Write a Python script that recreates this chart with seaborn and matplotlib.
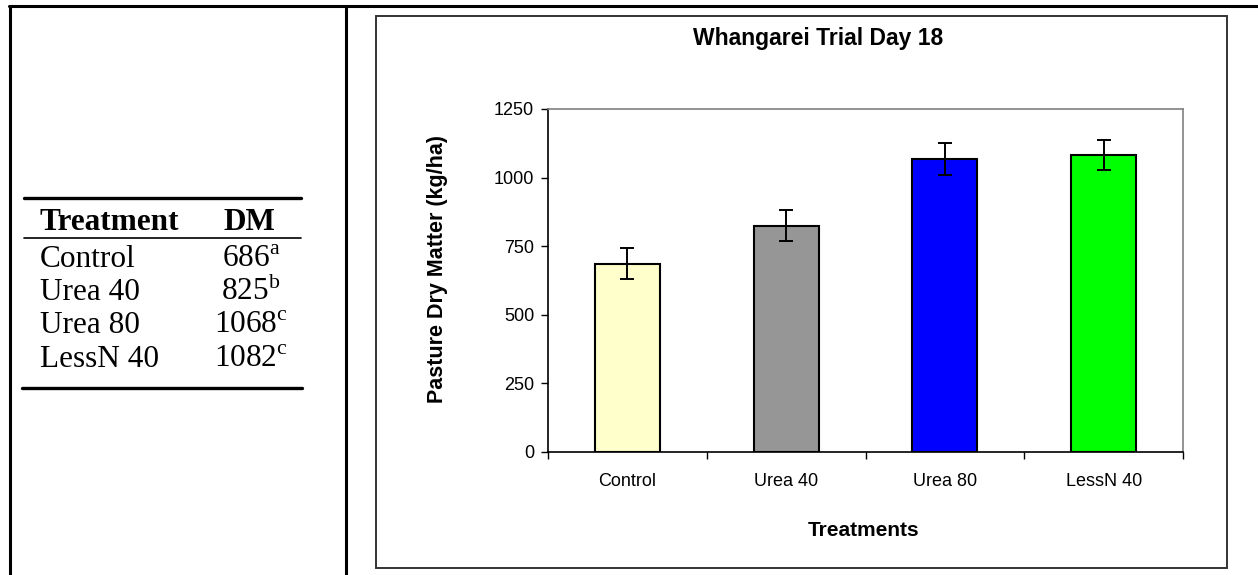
import matplotlib
matplotlib.use('Agg')
import matplotlib.pyplot as plt
import seaborn as sns
import pandas as pd
from matplotlib.lines import Line2D
from matplotlib.patches import Rectangle

# data
treatments = ['Control', 'Urea 40', 'Urea 80', 'LessN 40']
dry_matter = [686, 825, 1068, 1082]
std_err = [56, 57, 57, 56]
letters = ['a', 'b', 'c', 'c']
bar_colors = ['#FFFFCC', '#969696', '#0000FF', '#00FF00']
y_ticks = [0, 250, 500, 750, 1000, 1250]

df = pd.DataFrame({'treatment': treatments, 'dm': dry_matter})

sns.set_style('white')
plt.rcParams['font.family'] = ['Liberation Sans', 'DejaVu Sans']
plt.rcParams['mathtext.fontset'] = 'custom'
plt.rcParams['mathtext.rm'] = 'Liberation Serif'
plt.rcParams['text.color'] = 'black'
plt.rcParams['xtick.color'] = 'black'
plt.rcParams['ytick.color'] = 'black'
plt.rcParams['axes.labelcolor'] = 'black'

W, H = 1258, 575
fig = plt.figure(figsize=(W / 100, H / 100), dpi=100)


def fx(px):
    return px / W


def fy(py):
    return 1 - py / H


# =============================================================================
# page table lines
# =============================================================================
fig.add_artist(Line2D([fx(9), 1], [fy(6), fy(6)], color='black', lw=2.2))
fig.add_artist(Line2D([fx(10), fx(10)], [fy(6), 0], color='black', lw=2.2))
fig.add_artist(Line2D([fx(346), fx(346)], [fy(6), 0], color='black', lw=2.2))

# =============================================================================
# left table
# =============================================================================
serif = ['Liberation Serif', 'DejaVu Serif']
tsize = 22.5
fig.add_artist(Line2D([fx(24), fx(301)], [fy(198), fy(198)], color='black', lw=2.4))
fig.add_artist(Line2D([fx(24), fx(301)], [fy(238), fy(238)], color='black', lw=1.2))
fig.add_artist(Line2D([fx(22), fx(302)], [fy(388), fy(388)], color='black', lw=2.4))

fig.text(fx(40), fy(230), 'Treatment', family=serif, fontsize=tsize,
         fontweight='bold', ha='left', va='baseline')
fig.text(fx(249), fy(230), 'DM', family=serif, fontsize=tsize,
         fontweight='bold', ha='center', va='baseline')
for i, (name, val, let) in enumerate(zip(treatments, dry_matter, letters)):
    yb = fy(267 + i * 33.2)
    fig.text(fx(40), yb, name, family=serif, fontsize=tsize,
             ha='left', va='baseline')
    fig.text(fx(251), yb, f'{val}' + r'$^{\mathrm{' + let + '}}$',
             family=serif, fontsize=tsize, ha='center', va='baseline')

# =============================================================================
# chart
# =============================================================================
fig.add_artist(Rectangle((fx(376), fy(568)), fx(1227) - fx(376),
                         fy(16) - fy(568), fill=False,
                         edgecolor='#333333', lw=1.4))

ax = fig.add_axes([fx(548), fy(452), fx(1183) - fx(548), fy(109) - fy(452)])
sns.barplot(data=df, x='treatment', y='dm', hue='treatment',
            palette=bar_colors, saturation=1, width=0.41,
            edgecolor='black', linewidth=1.5, legend=False, ax=ax)
ax.errorbar(range(len(treatments)), dry_matter, yerr=std_err, fmt='none',
            ecolor='black', elinewidth=1.4, capsize=5, capthick=1.4)

ax.set_xlim(-0.5, 3.5)
ax.set_ylim(0, 1250)
ax.set_yticks(y_ticks)
ax.set_yticklabels([str(t) for t in y_ticks], fontsize=13)
ax.set_xticks([i - 0.5 for i in range(len(treatments) + 1)])
ax.set_xticklabels([])
ax.set_xticks(range(len(treatments)), minor=True)
ax.set_xticklabels(treatments, minor=True, fontsize=13)
ax.tick_params(axis='x', which='major', direction='out', length=5,
               width=1, color='black', bottom=True)
ax.tick_params(axis='x', which='minor', length=0, pad=15)
ax.tick_params(axis='y', direction='out', length=5, width=1,
               color='black', left=True, pad=5)

for side in ['left', 'bottom']:
    ax.spines[side].set_color('black')
    ax.spines[side].set_linewidth(1.2)
for side in ['top', 'right']:
    ax.spines[side].set_color('#808080')
    ax.spines[side].set_linewidth(1.2)

ax.set_xlabel('')
ax.set_ylabel('')
fig.text(fx(818), fy(38), 'Whangarei Trial Day 18', fontsize=16.5,
         fontweight='bold', ha='center', va='center')
fig.text(fx(864), fy(530), 'Treatments', fontsize=15,
         fontweight='bold', ha='center', va='center')
fig.text(fx(437), fy(269), 'Pasture Dry Matter (kg/ha)', fontsize=15.5,
         fontweight='bold', ha='center', va='center', rotation=90)

fig.savefig('out.png', dpi=100)
